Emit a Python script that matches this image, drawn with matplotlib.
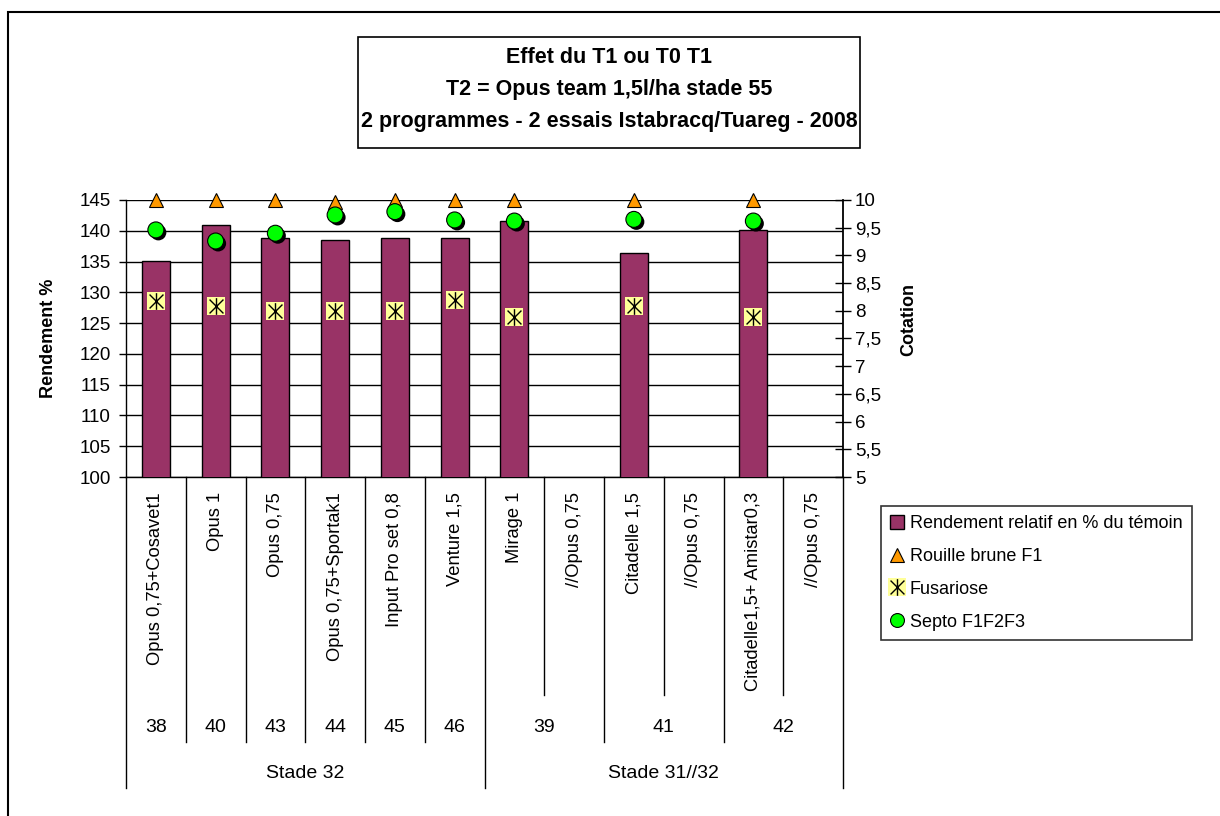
"""
Effet du T1 ou T0 T1 - rendement relatif + cotations maladies (2 essais, 2008).
Bars on the left axis (Rendement %), disease scores on the right axis (Cotation).
"""

import numpy as np
import matplotlib
matplotlib.use("Agg")
import matplotlib.pyplot as plt
import matplotlib.patheffects as pe
from matplotlib.lines import Line2D
from matplotlib.patches import Rectangle
from matplotlib.path import Path

# ── Data ────────────────────────────────────────────────────────────────────
treatments = [
    "Opus 0,75+Cosavet1", "Opus 1", "Opus 0,75", "Opus 0,75+Sportak1",
    "Input Pro set 0,8", "Venture 1,5", "Mirage 1", "//Opus 0,75",
    "Citadelle 1,5", "//Opus 0,75", "Citadelle1,5+ Amistar0,3", "//Opus 0,75",
]
essai_ids   = ["38", "40", "43", "44", "45", "46", "39", "41", "42"]
essai_spans = [1, 1, 1, 1, 1, 1, 2, 2, 2]
stades      = ["Stade 32", "Stade 31//32"]
stade_spans = [6, 6]

nan = np.nan
rendement = [135.1, 140.9, 138.9, 138.5, 138.9, 138.9, 141.6, nan, 136.4, nan, 140.2, nan]
rouille   = [10.0, 10.0, 10.0, 9.97, 10.0, 10.0, 10.0, nan, 10.0, nan, 10.0, nan]
fusariose = [8.18, 8.09, 7.99, 7.99, 7.99, 8.19, 7.89, nan, 8.09, nan, 7.89, nan]
septo     = [9.46, 9.26, 9.40, 9.73, 9.79, 9.64, 9.62, nan, 9.65, nan, 9.62, nan]

TITLE = ("Effet du T1 ou T0 T1\n"
         "T2 = Opus team 1,5l/ha stade 55\n"
         "2 programmes - 2 essais Istabracq/Tuareg - 2008")

# ── Style ───────────────────────────────────────────────────────────────────
BAR_COLOR   = "#993366"
TRI_COLOR   = "#FF9900"
SEPTO_COLOR = "#00FF00"
FUSA_COLOR  = "#FFFF99"
FONT = ["Liberation Sans", "DejaVu Sans"]

plt.rcParams["font.family"] = FONT

W, H = 1220, 816
fig = plt.figure(figsize=(W / 100, H / 100), dpi=100)

# plot area in pixels: x 126..843, y 200..477
L, R, T, B = 126, 843, 200, 477
ax = fig.add_axes([L / W, 1 - B / H, (R - L) / W, (B - T) / H])
ax2 = ax.twinx()

n = len(treatments)
x = np.arange(n) + 0.5

# bars
ax.bar(x, rendement, width=0.47, color=BAR_COLOR, edgecolor="black",
       linewidth=1, zorder=3)
ax.set_xlim(0, n)
ax.set_ylim(100, 145)
ax.set_yticks(np.arange(100, 146, 5))
ax.yaxis.grid(True, color="black", linewidth=1, zorder=0)
ax.set_axisbelow(True)
ax.set_xticks([])
ax.tick_params(axis="y", direction="out", length=5, width=1, pad=6,
               labelsize=13.5)
for s in ["top", "right"]:
    ax.spines[s].set_visible(False)
ax.spines["left"].set_linewidth(1)
ax.spines["bottom"].set_linewidth(1)
ax.set_ylabel("Rendement %", fontsize=13, fontweight="bold")
ax.yaxis.set_label_coords(-0.096, 0.5)

# secondary axis: disease scores
ax2.set_ylim(5, 10)
ax2.set_yticks(np.arange(5, 10.01, 0.5))
ax2.set_yticklabels([f"{v:g}".replace(".", ",") for v in np.arange(5, 10.01, 0.5)])
ax2.tick_params(axis="y", direction="inout", length=11, width=1, pad=3,
                labelsize=13.5)
for s in ["top", "left", "bottom"]:
    ax2.spines[s].set_visible(False)
ax2.spines["right"].set_linewidth(1.3)
ax2.set_ylabel("Cotation", fontsize=13, fontweight="bold")
ax2.yaxis.set_label_coords(1.08, 0.57)

# top frame line at 145
ax.axhline(145, color="black", linewidth=1.2, zorder=1)

shadow = [pe.SimplePatchShadow(offset=(1.8, -1.8), shadow_rgbFace="black",
                               alpha=1.0), pe.Normal()]

ax2.plot(x, rouille, linestyle="none", marker="^", markersize=10,
         markerfacecolor=TRI_COLOR, markeredgecolor="black",
         markeredgewidth=0.8, zorder=4, clip_on=False)

# fusariose: yellow square with a black asterisk
asterisk = Path([(-1, -1), (1, 1), (-1, 1), (1, -1), (0, -1.2), (0, 1.2)],
                [Path.MOVETO, Path.LINETO] * 3)
ax2.plot(x, fusariose, linestyle="none", marker="s", markersize=13,
         markerfacecolor=FUSA_COLOR, markeredgewidth=0, zorder=5)
ax2.plot(x, fusariose, linestyle="none", marker=asterisk, markersize=12,
         markeredgecolor="black", markerfacecolor="none",
         markeredgewidth=1.0, zorder=6)

ax2.plot(x, septo, linestyle="none", marker="o", markersize=11.5,
         markerfacecolor=SEPTO_COLOR, markeredgecolor="black",
         markeredgewidth=0.8, path_effects=shadow, zorder=7, clip_on=False)

# ── multi-level category axis ──────────────────────────────────────────────
trans = ax.get_xaxis_transform()
ph = B - T
def ay(py):
    return (B - py) / ph

for xi, lab in zip(x, treatments):
    ax.text(xi, ay(492), lab, transform=trans, rotation=90, ha="center",
            va="top", fontsize=13.2)

def vline(xd, y_end_px, lw=1.0):
    ax.add_line(Line2D([xd, xd], [0, ay(y_end_px)], transform=trans,
                       color="black", linewidth=lw, clip_on=False))

# boundaries between treatments inside a two-treatment essai
pos = 0
essai_edges = [0]
for sp in essai_spans:
    pos += sp
    essai_edges.append(pos)
for k in range(1, n):
    if k not in essai_edges:
        vline(k, 695)

stade_edges = [0]
for sp in stade_spans:
    stade_edges.append(stade_edges[-1] + sp)
for e in essai_edges:
    if e in stade_edges:
        vline(e, 788)
    else:
        vline(e, 742)

for lab, a, b in zip(essai_ids, essai_edges[:-1], essai_edges[1:]):
    ax.text((a + b) / 2, ay(727), lab, transform=trans, ha="center",
            va="center", fontsize=14)
for lab, a, b in zip(stades, stade_edges[:-1], stade_edges[1:]):
    ax.text((a + b) / 2, ay(773), lab, transform=trans, ha="center",
            va="center", fontsize=14)

# ── title box ───────────────────────────────────────────────────────────────
fig.patches.append(Rectangle((358 / W, 1 - 148 / H), (860 - 358) / W,
                             (148 - 37) / H, transform=fig.transFigure,
                             fill=False, edgecolor="black", linewidth=1.2))
fig.text(609 / W, 1 - 89.5 / H, TITLE, ha="center", va="center",
         fontsize=15.5, fontweight="bold", linespacing=1.68)

# outer chart border (left/top visible)
fig.patches.append(Rectangle((8 / W, -0.05), 1.2, 1 - 12 / H + 0.05,
                             transform=fig.transFigure, fill=False,
                             edgecolor="black", linewidth=1.5))

# ── legend ─────────────────────────────────────────────────────────────────
h_bar = Line2D([], [], linestyle="none", marker="s", markersize=10,
               markerfacecolor=BAR_COLOR, markeredgecolor="black",
               markeredgewidth=1)
h_tri = Line2D([], [], linestyle="none", marker="^", markersize=10,
               markerfacecolor=TRI_COLOR, markeredgecolor="black",
               markeredgewidth=0.8)
h_fsq = Line2D([], [], linestyle="none", marker="s", markersize=13,
               markerfacecolor=FUSA_COLOR, markeredgewidth=0)
h_fst = Line2D([], [], linestyle="none", marker=asterisk, markersize=12,
               markeredgecolor="black", markerfacecolor="none",
               markeredgewidth=1.0)
h_sep = Line2D([], [], linestyle="none", marker="o", markersize=10,
               markerfacecolor=SEPTO_COLOR, markeredgecolor="black",
               markeredgewidth=0.8)
leg = fig.legend([h_bar, h_tri, (h_fsq, h_fst), h_sep],
                 ["Rendement relatif en % du témoin", "Rouille brune F1",
                  "Fusariose", "Septo F1F2F3"],
                 loc="upper left", bbox_to_anchor=(881 / W, 1 - 506 / H),
                 frameon=True, fancybox=False, edgecolor="black",
                 fontsize=13, handlelength=0.8, handletextpad=0.3,
                 labelspacing=0.88, borderpad=0.5, borderaxespad=0)
leg.get_frame().set_linewidth(1.2)

fig.savefig("out.png", dpi=100, facecolor="white")
